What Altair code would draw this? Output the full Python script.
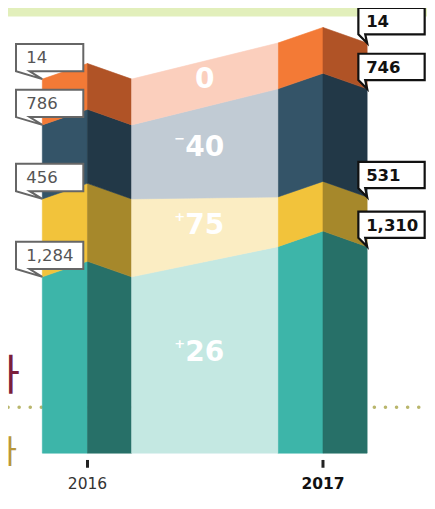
import altair as alt
import pandas as pd

# ---------------- data ----------------
years = ["2016", "2017"]
segments = ["teal", "yellow", "navy", "orange"]          # bottom -> top
values_2016 = [1284, 456, 786, 14]
values_2017 = [1310, 531, 746, 14]
# drawn heights of the segments as shown (infographic, not to scale)
drawn_2016 = [197, 80, 76, 47]
drawn_2017 = [228, 51, 111, 47]
front_colors = ["#3db5a9", "#f2c33b", "#345468", "#f37a36"]
side_colors = ["#277068", "#a6882b", "#223847", "#b05326"]
bridge_colors = ["#c4e8e2", "#fbedc3", "#c1cbd4", "#fbcfbd"]
side_labels = ["사", "사"]
side_label_colors = ["#7b1f3c", "#b8973a"]

# ---------------- geometry ----------------
W, H = 419, 488
XMIN, XMAX = -0.3375, 1.44167
YMIN, YMAX = -44, 457
POS = {"2016": 0.0, "2017": 1.0}
FRONT, SIDE, DROP = 0.1917, 0.1875, 16


def tops(h):
    out, s = [], 0
    for v in h:
        s += v
        out.append(s)
    return out


T = {"2016": tops(drawn_2016), "2017": tops(drawn_2017)}
V = {"2016": values_2016, "2017": values_2017}

faces = []
for yr in years:
    p = POS[yr]
    a, b, c = p - FRONT, p, p + SIDE
    for k, seg in enumerate(segments):
        top = T[yr][k]
        bot = T[yr][k - 1] if k > 0 else 0
        bot_e = bot - DROP if k > 0 else 0
        fid = f"{yr}-{seg}-front"
        faces += [dict(fid=fid, x=a, top=top - DROP, bot=bot_e, col=front_colors[k]),
                  dict(fid=fid, x=b, top=top, bot=bot, col=front_colors[k])]
        fid = f"{yr}-{seg}-side"
        faces += [dict(fid=fid, x=b, top=top, bot=bot, col=side_colors[k]),
                  dict(fid=fid, x=c, top=top - DROP, bot=bot_e, col=side_colors[k])]

c16 = POS["2016"] + SIDE
a17 = POS["2017"] - FRONT
bridge = []
changes = []
for k, seg in enumerate(segments):
    t16, t17 = T["2016"][k] - DROP, T["2017"][k] - DROP
    b16 = T["2016"][k - 1] - DROP if k > 0 else 0
    b17 = T["2017"][k - 1] - DROP if k > 0 else 0
    fid = f"bridge-{seg}"
    bridge += [dict(fid=fid, x=c16, top=t16, bot=b16, col=bridge_colors[k]),
               dict(fid=fid, x=a17, top=t17, bot=b17, col=bridge_colors[k])]
    diff = values_2017[k] - values_2016[k]
    changes.append(dict(x=(c16 + a17) / 2,
                        y=((t16 + t17) / 2 + (b16 + b17) / 2) / 2,
                        num=str(abs(diff)),
                        sign="+" if diff > 0 else ("\u2212" if diff < 0 else "")))

labels = []
for yr in years:
    edge = POS[yr] - FRONT if yr == "2016" else POS[yr] + SIDE
    for k, seg in enumerate(segments):
        labels.append(dict(year=yr, x=edge, y=T[yr][k] - DROP, txt=f"{V[yr][k]:,}"))

faces_df = pd.DataFrame(faces + bridge)
changes_df = pd.DataFrame(changes)
labels_df = pd.DataFrame(labels)
years_df = pd.DataFrame(dict(year=years, x=[POS[y] for y in years],
                             y=[-32, -32], t1=[-7, -7], t2=[-15, -15]))
band_df = pd.DataFrame(dict(x=[XMIN], x2=[XMAX], y=[448.3], y2=[YMAX]))
dots_df = pd.DataFrame(dict(x=[XMIN], x2=[XMAX], y=[47]))
side_df = pd.DataFrame(dict(t=side_labels, x=[-0.2875, -0.3], y=[78, 0],
                            col=side_label_colors, size=[42, 32]))

xs = alt.Scale(domain=[XMIN, XMAX], nice=False, zero=False)
ys = alt.Scale(domain=[YMIN, YMAX], nice=False, zero=False)
X = lambda f="x": alt.X(f, type="quantitative", scale=xs, axis=None)
Y = lambda f="y": alt.Y(f, type="quantitative", scale=ys, axis=None, stack=None)

band = alt.Chart(band_df).mark_rect(color="#e2efbb").encode(
    x=X(), x2="x2", y=Y(), y2="y2")

dots = alt.Chart(dots_df).mark_rule(color="#b9b66c", strokeWidth=3.5,
                                    strokeDash=[0.1, 11], strokeCap="round").encode(
    x=X(), x2="x2", y=Y())

areas = alt.Chart(faces_df).mark_area(opacity=1, strokeWidth=0.6).encode(
    x=X(), y=Y("top"), y2="bot",
    detail="fid:N",
    color=alt.Color("col:N", scale=None),
    stroke=alt.Stroke("col:N", scale=None))

path16 = ("M -0.45 -0.6 L 0.7 -0.6 L 0.7 -0.133 L -0.217 -0.133 "
          "L 0 0 L -0.45 -0.133 Z")
path17 = ("M -0.15 -0.6 L 0.983 -0.6 L 0.983 -0.15 L -0.033 -0.15 "
          "L 0 0 L -0.15 -0.15 Z")

box16 = alt.Chart(labels_df).transform_filter("datum.year == '2016'").mark_point(
    shape=path16, size=13700, filled=True, fill="white", stroke="#666666",
    strokeWidth=2, opacity=1, fillOpacity=1).encode(x=X(), y=Y())
box17 = alt.Chart(labels_df).transform_filter("datum.year == '2017'").mark_point(
    shape=path17, size=13700, filled=True, fill="white", stroke="#111111",
    strokeWidth=2.2, opacity=1, fillOpacity=1).encode(x=X(), y=Y())

txt16 = alt.Chart(labels_df).transform_filter("datum.year == '2016'").mark_text(
    align="left", baseline="middle", dx=-16, dy=-21, font="DejaVu Sans",
    fontSize=16.5, color="#555555").encode(x=X(), y=Y(), text="txt:N")
txt17 = alt.Chart(labels_df).transform_filter("datum.year == '2017'").mark_text(
    align="left", baseline="middle", dx=-1, dy=-21, font="DejaVu Sans",
    fontSize=16.5, fontWeight=600, color="#111111").encode(x=X(), y=Y(), text="txt:N")

chg = alt.Chart(changes_df).mark_text(
    align="center", baseline="middle", dy=-4, font="DejaVu Sans", fontSize=28,
    fontWeight="bold", color="white").encode(x=X(), y=Y(), text="num:N")
sgn = alt.Chart(changes_df).mark_text(
    align="center", baseline="middle", dx=-25, dy=-13, font="DejaVu Sans",
    fontSize=13, fontWeight="bold", color="white").encode(x=X(), y=Y(), text="sign:N")

ticks = alt.Chart(years_df).mark_rule(color="#222222", strokeWidth=3).encode(
    x=X(), y=Y("t1"), y2="t2")
ylab16 = alt.Chart(years_df).transform_filter("datum.year == '2016'").mark_text(
    align="center", baseline="middle", font="DejaVu Sans", fontSize=15.5,
    color="#333333").encode(x=X(), y=Y(), text="year:N")
ylab17 = alt.Chart(years_df).transform_filter("datum.year == '2017'").mark_text(
    align="center", baseline="middle", font="DejaVu Sans", fontSize=15.5,
    fontWeight="bold", color="#111111").encode(x=X(), y=Y(), text="year:N")

side = alt.Chart(side_df).mark_text(
    align="right", baseline="middle", font="Noto Sans CJK KR").encode(
    x=X(), y=Y(), text="t:N",
    color=alt.Color("col:N", scale=None),
    size=alt.Size("size:Q", scale=None))

chart = alt.layer(band, dots, areas, box16, box17, txt16, txt17, chg, sgn,
                  ticks, ylab16, ylab17, side).properties(
    width=W, height=H, padding=0, autosize=alt.AutoSizeParams(type="none")
).configure_view(stroke=None)

chart.save("out.html", embed_options={"renderer": "svg", "actions": False})
